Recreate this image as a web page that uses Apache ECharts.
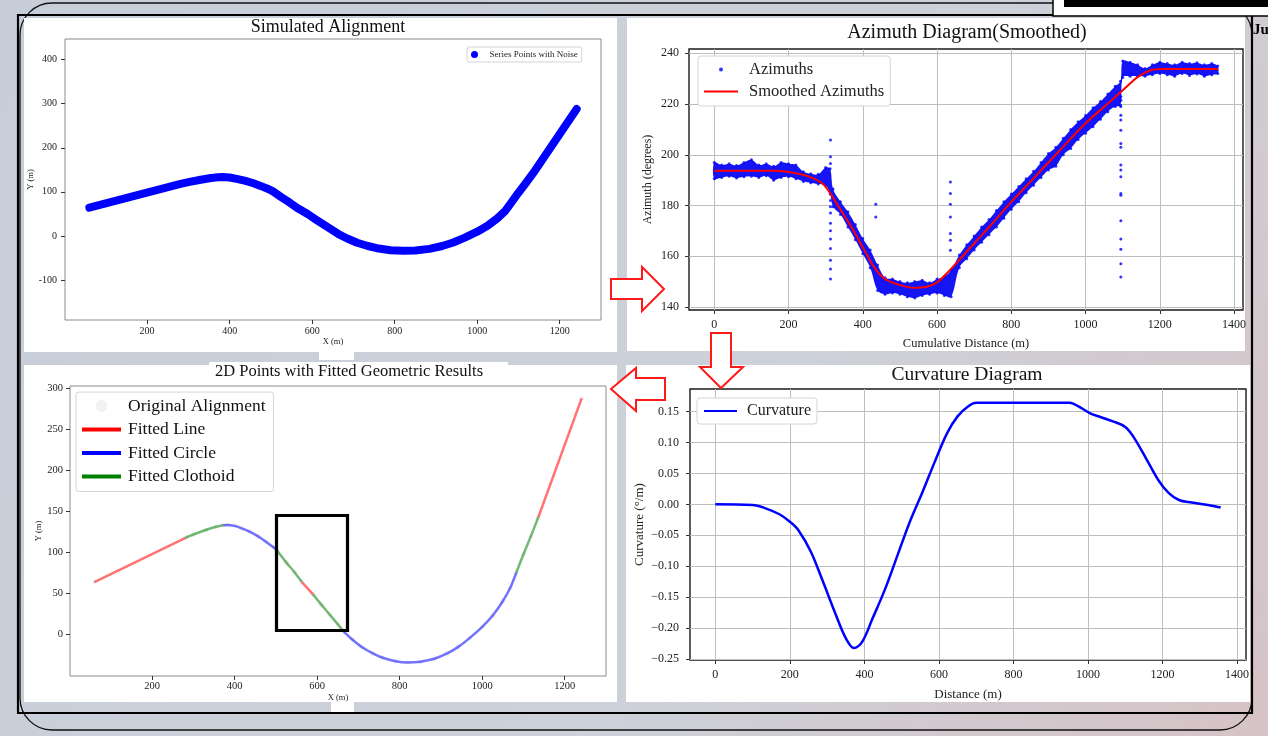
<!DOCTYPE html>
<html>
<head>
<meta charset="utf-8">
<title>Alignment fitting workflow</title>
<script src="https://cdn.jsdelivr.net/npm/echarts@6/dist/echarts.min.js"></script>
<style>
  html, body { margin: 0; padding: 0; }
  #main { width: 1268px; height: 736px; }
</style>
</head>
<body>
<div id="main"></div>
<script>
// alignment (x, y in m)
const alignX = [60, 281, 300, 330, 355, 372, 383, 400, 417, 436, 456, 475, 495, 505, 525, 545, 563, 590, 610, 630, 650, 665,
  685, 709, 735, 757, 790, 820, 850, 884, 915, 942, 970, 1000, 1025, 1049, 1068, 1083, 1100, 1118, 1136, 1241]
const alignY = [64, 118, 122, 127.5, 131.5, 133.3, 133.6, 132.5, 129.5, 125.5, 120, 113.5, 106, 101, 88, 76, 64, 49, 36.5, 24.5, 12.5, 3.3,
  -6, -15.5, -23, -28, -32.5, -34, -33, -29.5, -23, -15, -4, 9.5, 23, 40, 57, 76, 98, 120, 143, 288]

// fitted segments: kind and index range into the alignment arrays
const segKind = ['Line', 'Clothoid', 'Circle', 'Clothoid', 'Line', 'Clothoid', 'Circle', 'Clothoid', 'Line']
const segStart = [0, 1, 5, 13, 16, 17, 21, 37, 40]
const segEnd = [1, 5, 13, 16, 17, 21, 37, 40, 41]

// azimuth cloud: upper / lower edge of the noisy points
const azDist = [0, 20, 40, 60, 80, 100, 120, 140, 160, 180, 200, 220, 240, 260, 280, 300, 312, 320, 340, 360, 380, 400, 420, 440,
  460, 480, 500, 520, 540, 560, 580, 600, 620, 638, 660, 680, 700, 720, 740, 760, 780, 800, 820, 840, 860, 880, 900, 920,
  940, 960, 980, 1000, 1020, 1040, 1060, 1080, 1094, 1100, 1120, 1140, 1160, 1180, 1200, 1220, 1240, 1260, 1280, 1300,
  1320, 1340, 1356]
const azUpper = [197, 196, 196.5, 195.8, 197, 198, 196, 196.5, 195.5, 197, 196.5, 196, 193.3, 192.5, 192.3, 195, 194.5, 186.5,
  181.5, 177.5, 172.5, 167, 162.5, 156.5, 151.5, 151, 150, 149.5, 150, 150.5, 149.5, 151, 152, 154.5, 160.5, 164.5, 168, 171.5, 174.5,
  178, 181.5, 184.5, 187.5, 190.5, 193.5, 197, 200.5, 203, 206.5, 210, 213, 215.5, 218.5, 221, 224, 227, 229, 237, 236.5,
  235.5, 234, 235.5, 236.5, 236, 235.5, 236.5, 236, 236.3, 235.5, 236, 235]
const azLower = [190.5, 191, 191.5, 190.8, 191.3, 191.5, 191, 191.7, 190, 191, 191.3, 190.5, 189.5, 189, 188.5, 188, 184.5, 179.5,
  176.5, 171.5, 166.5, 161, 155.5, 146.5, 145, 145.5, 145, 144, 143.5, 144.5, 145, 145.5, 144.5, 144, 155.5, 159, 162.5, 165.5, 168.5,
  171.5, 175, 178.5, 181.5, 185, 188, 191, 194, 195.5, 200, 202.5, 206, 208.5, 211, 214, 217, 219, 219.5, 230.5,
  231, 231, 231, 231.5, 232, 231.5, 231, 232, 231.3, 231.8, 231, 231.5, 232]

// isolated azimuth spikes
const outDist = [313, 313, 313, 313, 313, 313, 313, 313, 313, 313, 313, 313, 313, 435, 435, 436, 436,
  636, 636, 636, 636, 636, 636, 636,
  1095, 1095, 1095, 1095, 1095, 1095, 1095, 1095, 1095, 1095, 1095, 1095, 1095, 1095, 1095, 1095, 1095, 1095]
const outAz = [205.8, 199.2, 196.6, 182, 179.5, 177, 173, 170, 166.8, 163, 158.4, 155, 151, 180.5, 175.5, 229.5, 227.5,
  189.3, 184.7, 180.5, 175.5, 169, 166.3, 162.4,
  222.9, 221.5, 219, 215.6, 213.7, 209.7, 204.4, 203, 196, 194, 191.3, 184.7, 184, 174, 166.8, 162.8, 157, 151.8]

// smoothed azimuth
const smoothDist = [0, 168, 212, 257, 291, 313, 335, 369, 402, 430, 458, 492, 536, 570, 598, 626, 659, 704, 749, 800, 860,
  927, 1000, 1061, 1106, 1139, 1173, 1206, 1356]
const smoothAz = [193.7, 193.7, 192.9, 191.3, 188.7, 184.7, 179.5, 171.6, 163.0, 155.8, 151.2, 149.0, 147.6, 147.9, 149.5,
  153.2, 158.4, 165.7, 172.9, 181.4, 190.7, 201.2, 212.4, 220.3, 226.2, 230.5, 233.2, 233.8, 233.8]

// curvature
const curvDist = [0, 100, 133, 172, 200, 222, 256, 289, 322, 350, 372, 394, 422, 456, 489, 522, 556, 589, 622, 650, 678, 700,
  744, 856, 950, 972, 1006, 1033, 1067, 1100, 1122, 1156, 1189, 1217, 1244, 1278, 1322, 1356]
const curvValue = [0, -0.001, -0.006, -0.016, -0.028, -0.041, -0.076, -0.125, -0.176, -0.216, -0.232, -0.222, -0.184, -0.136,
  -0.082, -0.028, 0.020, 0.069, 0.115, 0.142, 0.158, 0.164, 0.164, 0.164, 0.164, 0.159, 0.147, 0.141, 0.134, 0.125, 0.109,
  0.074, 0.039, 0.018, 0.007, 0.003, -0.001, -0.005]

// tick labels
const xyTicksX = [200, 400, 600, 800, 1000, 1200]
const p1TicksY = [-100, 0, 100, 200, 300, 400]
const p3TicksY = [0, 50, 100, 150, 200, 250, 300]
const distTicks = [0, 200, 400, 600, 800, 1000, 1200, 1400]
const azTicks = [140, 160, 180, 200, 220, 240]
const curvTicks = [-0.25, -0.2, -0.15, -0.1, -0.05, 0, 0.05, 0.1, 0.15]

const SERIF = "'Liberation Serif', 'DejaVu Serif', serif"
const BLUE = '#0000ff'
const segColor = { Line: '#ff0000', Circle: '#0000ff', Clothoid: '#008000' }

const zip = (a, b) => a.map((v, i) => [v, b[i]])
const alignPts = zip(alignX, alignY)

function valueAxis (grid, min, max, ticks, o) {
  return {
    type: 'value',
    gridIndex: grid,
    min,
    max,
    name: o.name,
    nameLocation: 'middle',
    nameGap: o.nameGap,
    nameTextStyle: { fontFamily: SERIF, fontSize: o.nameSize, color: '#222' },
    axisLine: { show: false, onZero: false },
    axisTick: { show: true, length: 4, customValues: ticks, lineStyle: { color: '#333' } },
    axisLabel: {
      customValues: ticks,
      color: '#222',
      fontFamily: SERIF,
      fontSize: o.fontSize,
      margin: o.margin,
      formatter: o.formatter || (v => String(v)),
    },
    splitLine: { show: !!o.grid, lineStyle: { color: '#bdbdbd', width: 1 } },
  }
}

const fmtCurv = v => (v < 0 ? '\u2212' : '') + Math.abs(v).toFixed(2)

const series = []

// panel 1
series.push({
  type: 'line',
  name: 'Series Points with Noise',
  xAxisIndex: 0,
  yAxisIndex: 0,
  data: alignPts,
  symbol: 'none',
  itemStyle: { color: BLUE },
  lineStyle: { color: BLUE, width: 8, cap: 'round', join: 'round' },
})

// panel 2
series.push({
  type: 'scatter',
  name: 'Azimuths',
  xAxisIndex: 1,
  yAxisIndex: 1,
  symbolSize: 3,
  itemStyle: { color: BLUE },
  data: zip(azDist, azUpper).concat(zip(azDist, azLower), zip(outDist, outAz)),
})
series.push({
  type: 'custom',
  name: 'Azimuths',
  xAxisIndex: 1,
  yAxisIndex: 1,
  silent: true,
  itemStyle: { color: BLUE },
  data: [[azDist[0], azUpper[0]]],
  encode: { x: 0, y: 1 },
  renderItem (params, api) {
    const pts = []
    for (let i = 0; i < azDist.length; i++) pts.push(api.coord([azDist[i], azUpper[i]]))
    for (let i = azDist.length - 1; i >= 0; i--) pts.push(api.coord([azDist[i], azLower[i]]))
    return {
      type: 'polygon',
      shape: { points: pts, smooth: 0.35 },
      style: { fill: '#1414f5' },
    }
  },
})
series.push({
  type: 'line',
  name: 'Smoothed Azimuths',
  xAxisIndex: 1,
  yAxisIndex: 1,
  data: zip(smoothDist, smoothAz),
  symbol: 'none',
  smooth: 0.35,
  z: 5,
  lineStyle: { color: '#ff0000', width: 2 },
  itemStyle: { color: '#ff0000' },
})

// panel 3
series.push({
  type: 'scatter',
  name: 'Original Alignment',
  xAxisIndex: 2,
  yAxisIndex: 2,
  symbolSize: 5,
  itemStyle: { color: 'rgba(190,190,190,0.25)' },
  data: alignPts,
})
for (let s = 0; s < segKind.length; s++) {
  const c = segColor[segKind[s]]
  series.push({
    type: 'line',
    name: 'Fitted ' + segKind[s],
    xAxisIndex: 2,
    yAxisIndex: 2,
    data: alignPts.slice(segStart[s], segEnd[s] + 1),
    symbol: 'none',
    smooth: 0.2,
    itemStyle: { color: c },
    lineStyle: { color: c, width: 2.5, opacity: 0.55 },
  })
}

// panel 4
series.push({
  type: 'line',
  name: 'Curvature',
  xAxisIndex: 3,
  yAxisIndex: 3,
  data: zip(curvDist, curvValue),
  symbol: 'none',
  smooth: 0.35,
  itemStyle: { color: BLUE },
  lineStyle: { color: BLUE, width: 2.5 },
})

const legendBase = {
  orient: 'vertical',
  selectedMode: false,
  backgroundColor: '#fff',
  borderColor: '#d4d4d4',
  borderWidth: 1,
  borderRadius: 3,
}
// legend entry for a line: hide the marker the library adds in the middle
const lineEntry = name => ({ name, itemStyle: { opacity: 0 } })

const arrowStyle = { fill: '#fff', stroke: '#ff1a1a', lineWidth: 2 }
const titleText = (x, y, text, size) => ({
  type: 'text', x, y, z: 5,
  style: { text, font: size + 'px ' + SERIF, fill: '#111', align: 'center', verticalAlign: 'middle' },
})
const whiteRect = (x, y, w, h) => ({
  type: 'rect', z: -5, shape: { x, y, width: w, height: h }, style: { fill: '#fff' },
})

const option = {
  animation: false,
  backgroundColor: {
    type: 'linear', x: 0, y: 0, x2: 1, y2: 1,
    colorStops: [
      { offset: 0, color: '#c7ced9' },
      { offset: 0.6, color: '#cdd1d9' },
      { offset: 1, color: '#d6c3c6' },
    ],
  },
  grid: [
    { left: 65, top: 39, width: 536, height: 281, show: true, borderColor: '#8a8a8a', borderWidth: 1 },
    { left: 689, top: 49, width: 554, height: 261, show: true, borderColor: '#1a1a1a', borderWidth: 1.4 },
    { left: 70, top: 386, width: 536, height: 290, show: true, borderColor: '#8a8a8a', borderWidth: 1 },
    { left: 690, top: 389, width: 556, height: 271, show: true, borderColor: '#1a1a1a', borderWidth: 1.4 },
  ],
  xAxis: [
    valueAxis(0, 1, 1300, xyTicksX, { name: 'X (m)', nameGap: 17, nameSize: 8.5, fontSize: 10, margin: 6 }),
    valueAxis(1, -68, 1424, distTicks, { name: 'Cumulative Distance (m)', nameGap: 27, nameSize: 12.5, fontSize: 12, margin: 9, grid: true }),
    valueAxis(2, 1, 1300, xyTicksX, { name: 'X (m)', nameGap: 12, nameSize: 8.5, fontSize: 10.5, margin: 5 }),
    valueAxis(3, -68, 1424, distTicks, { name: 'Distance (m)', nameGap: 28, nameSize: 13, fontSize: 12, margin: 9, grid: true }),
  ],
  yAxis: [
    valueAxis(0, -191, 447, p1TicksY, { name: 'Y (m)', nameGap: 27, nameSize: 8.5, fontSize: 10, margin: 8 }),
    valueAxis(1, 138.8, 241.7, azTicks, { name: 'Azimuth (degrees)', nameGap: 35, nameSize: 12, fontSize: 12, margin: 10, grid: true }),
    valueAxis(2, -50.5, 303, p3TicksY, { name: 'Y (m)', nameGap: 26, nameSize: 8.5, fontSize: 10.5, margin: 7 }),
    valueAxis(3, -0.2512, 0.1862, curvTicks, { name: 'Curvature (\u00b0/m)', nameGap: 44, nameSize: 13, fontSize: 12, margin: 11, grid: true, formatter: fmtCurv }),
  ],
  legend: [
    Object.assign({}, legendBase, {
      data: [{ name: 'Series Points with Noise', icon: 'circle' }],
      left: 467, top: 47, padding: [3, 4, 3, 4], itemWidth: 20, itemHeight: 7,
      borderRadius: 2,
      textStyle: { fontFamily: SERIF, fontSize: 9, color: '#222' },
    }),
    Object.assign({}, legendBase, {
      data: [{ name: 'Azimuths', icon: 'circle' }, lineEntry('Smoothed Azimuths')],
      left: 698, top: 56, padding: [5, 6, 6, 5], itemWidth: 34, itemHeight: 4, itemGap: 5,
      textStyle: { fontFamily: SERIF, fontSize: 16.5, color: '#222', padding: [0, 0, 0, 6] },
    }),
    Object.assign({}, legendBase, {
      data: ['Original Alignment', lineEntry('Fitted Line'), lineEntry('Fitted Circle'), lineEntry('Fitted Clothoid')],
      left: 76, top: 392, padding: [5, 8, 6, 4], itemWidth: 39, itemHeight: 12, itemGap: 5.5,
      lineStyle: { width: 4, opacity: 1 },
      textStyle: { fontFamily: SERIF, fontSize: 17.5, color: '#111', padding: [0, 0, 0, 2] },
    }),
    Object.assign({}, legendBase, {
      data: [lineEntry('Curvature')],
      left: 697, top: 398, padding: [5, 6, 5, 6], itemWidth: 33, itemHeight: 4,
      textStyle: { fontFamily: SERIF, fontSize: 16, color: '#222', padding: [0, 0, 0, 5] },
    }),
  ],
  graphic: {
    elements: [
      // frames
      { type: 'rect', z: -8, shape: { x: 20, y: 3, width: 1232, height: 727, r: 32 }, style: { fill: 'none', stroke: '#111', lineWidth: 1.3 } },
      { type: 'rect', z: -7, shape: { x: 18, y: 15, width: 1234, height: 698 }, style: { fill: 'none', stroke: '#000', lineWidth: 2.2 } },
      { type: 'rect', z: -7, shape: { x: 1053, y: -2, width: 220, height: 18 }, style: { fill: '#fff', stroke: '#000', lineWidth: 1.5 } },
      { type: 'rect', z: -6, shape: { x: 1064, y: 0, width: 204, height: 7 }, style: { fill: '#000' } },
      { type: 'text', x: 1253, y: 30, z: -6, style: { text: 'Ju', font: 'bold 15px ' + SERIF, fill: '#000', verticalAlign: 'middle' } },
      // white panels
      whiteRect(24, 18, 593, 334),
      whiteRect(319, 347, 35, 13),
      whiteRect(627, 18, 618, 333),
      whiteRect(24, 365, 593, 337),
      whiteRect(209, 362, 299, 6),
      whiteRect(331, 700, 23, 12),
      whiteRect(626, 365, 624, 337),
      // titles
      titleText(328, 27, 'Simulated Alignment', 18),
      titleText(967, 33, 'Azimuth Diagram(Smoothed)', 20),
      titleText(349, 372, '2D Points with Fitted Geometric Results', 16.5),
      titleText(967, 375, 'Curvature Diagram', 19.5),
      // workflow arrows
      {
        type: 'polygon', z: 10,
        shape: { points: [[611, 279], [642, 279], [642, 267], [664, 289], [642, 311], [642, 299], [611, 299]] },
        style: arrowStyle,
      },
      {
        type: 'polygon', z: 10,
        shape: { points: [[711, 333], [731, 333], [731, 367], [743, 367], [721, 388], [700, 367], [711, 367]] },
        style: arrowStyle,
      },
      {
        type: 'polygon', z: 10,
        shape: { points: [[611, 389], [636, 368], [636, 378], [665, 378], [665, 400], [636, 400], [636, 411]] },
        style: arrowStyle,
      },
      // highlight box
      { type: 'rect', z: 10, shape: { x: 276.5, y: 515.5, width: 71, height: 115 }, style: { fill: 'none', stroke: '#000', lineWidth: 3.2 } },
    ],
  },
  series,
}

const chart = echarts.init(document.getElementById('main'))
chart.setOption(option)
</script>
</body>
</html>
